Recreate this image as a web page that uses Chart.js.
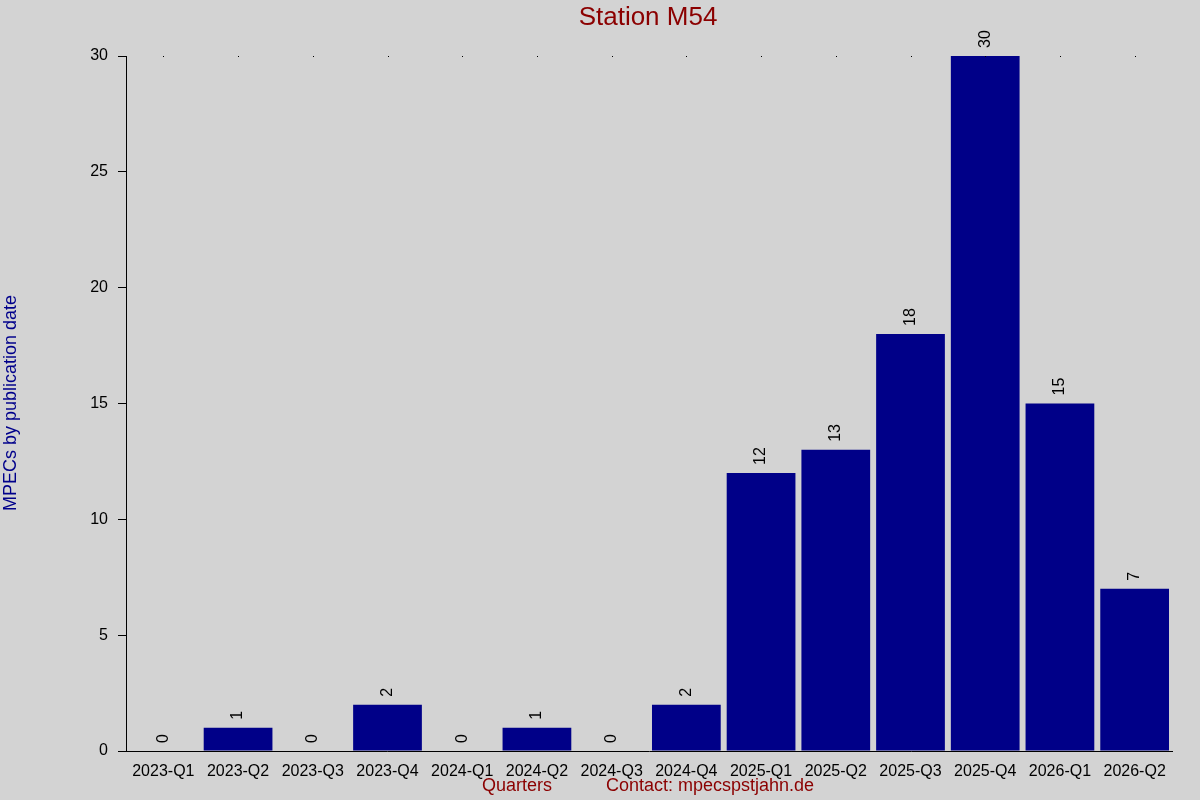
<!DOCTYPE html>
<html>
<head>
<meta charset="utf-8">
<script src="https://cdn.jsdelivr.net/npm/chart.js@4"></script>
<style>
  html, body { margin: 0; padding: 0; background: #d3d3d3; }
  #wrap { width: 1200px; height: 800px; }
</style>
</head>
<body>
<div id="wrap"><canvas id="chart" width="1200" height="800"></canvas></div>
<script>
const quarters = ['2023-Q1','2023-Q2','2023-Q3','2023-Q4','2024-Q1','2024-Q2','2024-Q3',
  '2024-Q4','2025-Q1','2025-Q2','2025-Q3','2025-Q4','2026-Q1','2026-Q2'];
const mpecCounts = [0, 1, 0, 2, 0, 1, 0, 2, 12, 13, 18, 30, 15, 7];
const yTicks = [0, 5, 10, 15, 20, 25, 30];

const chartTitle = 'Station M54';
const yTitle = 'MPECs by publication date';
const xTitle = 'Quarters';
const contactText = 'Contact: mpecspstjahn.de';

const FONT = '"Liberation Sans", Arial, sans-serif';
const darkRed = '#8b0000';
const darkBlue = '#00008b';

// labels above bars, dots along the top edge, titles
const decorations = {
  id: 'decorations',
  afterDatasetsDraw(chart) {
    const ctx = chart.ctx;
    const meta = chart.getDatasetMeta(0);
    const area = chart.chartArea;
    ctx.save();
    ctx.fillStyle = '#000';
    ctx.font = '16px ' + FONT;
    ctx.textAlign = 'left';
    ctx.textBaseline = 'middle';
    meta.data.forEach((bar, i) => {
      ctx.save();
      ctx.translate(bar.x, bar.y - 8);
      ctx.rotate(-Math.PI / 2);
      ctx.fillText(String(mpecCounts[i]), 0, 0);
      ctx.restore();
    });
    // small dots at top of each category
    const xs = chart.scales.x;
    quarters.forEach((q, i) => {
      const x = Math.round(xs.getPixelForTick(i));
      ctx.fillRect(x, Math.round(area.top), 1, 1);
    });
    ctx.restore();
  },
  afterDraw(chart) {
    const ctx = chart.ctx;
    ctx.save();
    ctx.fillStyle = darkRed;
    ctx.font = '26px ' + FONT;
    ctx.textAlign = 'center';
    ctx.textBaseline = 'middle';
    ctx.fillText(chartTitle, 648, 18);

    ctx.font = '18px ' + FONT;
    ctx.fillText(xTitle, 517, 786);
    ctx.fillText(contactText, 710, 786);

    ctx.fillStyle = darkBlue;
    ctx.translate(11, 403);
    ctx.rotate(-Math.PI / 2);
    ctx.fillText(yTitle, 0, 0);
    ctx.restore();
  }
};

const bgPlugin = {
  id: 'bg',
  beforeDraw(chart) {
    const ctx = chart.ctx;
    ctx.save();
    ctx.fillStyle = '#d3d3d3';
    ctx.fillRect(0, 0, chart.width, chart.height);
    ctx.restore();
  }
};

new Chart(document.getElementById('chart'), {
  type: 'bar',
  data: {
    labels: quarters,
    datasets: [{
      data: mpecCounts,
      backgroundColor: '#000088',
      borderWidth: 0,
      barPercentage: 0.92,
      categoryPercentage: 1.0
    }]
  },
  options: {
    responsive: false,
    animation: false,
    layout: { padding: { top: 56, right: 28, left: 0, bottom: 0 } },
    plugins: {
      legend: { display: false },
      title: { display: false },
      tooltip: { enabled: false }
    },
    scales: {
      x: {
        grid: { display: false },
        border: { display: true, color: '#000', width: 1 },
        ticks: { color: '#000', font: { size: 16, family: FONT }, padding: 3, maxRotation: 0, autoSkip: false },
        afterFit(scale) { scale.height = 49; }
      },
      y: {
        min: 0,
        max: 30,
        afterBuildTicks(scale) { scale.ticks = yTicks.map(v => ({ value: v })); },
        grid: { drawOnChartArea: false, color: '#000', tickLength: 8, tickWidth: 1 },
        border: { display: true, color: '#000', width: 1 },
        ticks: { color: '#000', font: { size: 16, family: FONT }, padding: 10 },
        afterFit(scale) { scale.width = 126; }
      }
    }
  },
  plugins: [bgPlugin, decorations]
});
</script>
</body>
</html>
